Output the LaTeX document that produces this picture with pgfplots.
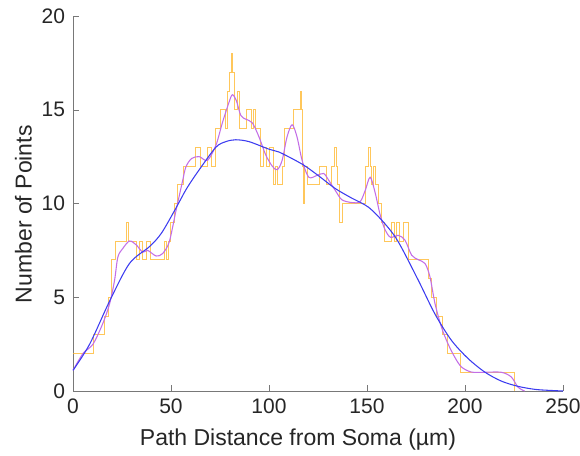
\documentclass[border=0pt]{standalone}
\usepackage{pgfplots}
\pgfplotsset{compat=1.18}
\usepackage{fontspec}
\setmainfont{Liberation Sans}
\definecolor{orangeh}{RGB}{255,185,50}
\definecolor{purplek}{RGB}{195,110,230}
\definecolor{bluek}{RGB}{60,60,240}
\definecolor{axgray}{RGB}{120,120,120}
\definecolor{txt}{RGB}{38,38,38}
\begin{document}
\begin{tikzpicture}
\useasboundingbox (-54.75pt,-48pt) rectangle (380.25pt,293.25pt);
\begin{axis}[
  at={(0pt,0pt)}, anchor=south west,
  scale only axis,
  width=367.5pt, height=281.25pt,
  xmin=0, xmax=250, ymin=0, ymax=20,
  xtick={0,50,100,150,200,250},
  ytick={0,5,10,15,20},
  axis x line*=bottom, axis y line*=left,
  axis line style={axgray,-},
  tick align=inside,
  major tick length=4.5pt,
  tick style={axgray},
  ticklabel style={font=\fontsize{15.75}{18}\selectfont, text=txt},
  xticklabel style={yshift=-2.5pt},
  yticklabel style={xshift=-2.5pt},
  /pgf/number format/assume math mode=true,
  xlabel={Path Distance from Soma (µm)},
  ylabel={Number of Points},
  label style={font=\fontsize{17.25}{20}\selectfont, text=txt},
  xlabel style={at={([xshift=-15pt,yshift=-40.5pt]axis description cs:0.5,0)}, anchor=base},
  ylabel style={at={([xshift=-31pt,yshift=-8pt]axis description cs:0,0.5)}, anchor=base, rotate=0},
  clip=false,
]
\addplot[orangeh, line width=0.7pt, const plot mark left, opacity=0.8] coordinates {
(0,2)(10.5,3)(15.8,4)(18,5)(19.5,7)(21.7,8)(27.1,9)(28.4,8)(32.5,7)(34,8)(35.3,7)(37.5,8)(39.5,7)(46.5,8)(47.8,7)(48.7,8)(49.8,9)(51.7,10)(53.4,11)(56.4,12)(62.7,13)(65.2,12)(68.6,13)(70.8,12)(72.8,14)(75.4,15)(78.0,14)(78.6,16)(79.6,17)(80.8,18)(81.5,17)(82.2,16)(82.6,15)(83.9,16)(84.7,14)(88.6,15)(91.2,14)(92.3,15)(93.2,14)(95.5,12)(97,13)(98.5,12)(100,13)(102.5,11)(103.3,12)(104.1,11)(107,12)(108,14)(112.6,15)(115.8,16)(116.4,15)(117,12)(117.7,10)(118.2,12)(119.4,11)(125.5,12)(129.1,11)(132.1,12)(133.5,13)(134.2,12)(134.7,11)(136.2,9)(137.6,10)(149,12)(150.8,13)(151.6,12)(152.1,11)(153.3,12)(154.2,11)(155.9,10)(157.2,9)(158.9,8)(162.6,9)(163.8,8)(165.2,9)(166.5,8)(168.6,9)(171.1,7)(181.6,6)(183,5)(185.5,4)(188.4,3)(191.1,2)(197.9,1)(225,0)(225,0)
};
\addplot[purplek, line width=0.8pt, smooth] coordinates {
(0,1.1)(5.1,2.0)(10.2,2.5)(15.2,3.6)(18.7,4.66)(21.2,5.9)(22.9,7.15)(25.4,7.6)(28.8,8.0)(32.2,7.8)(35.6,7.4)(38.1,7.5)(42.4,7.2)(45.7,7.33)(49.1,7.95)(52.5,9.6)(55.9,11.2)(57.6,11.95)(60.5,12.4)(64.4,12.5)(68.6,12.3)(72.9,13.1)(76.2,14.3)(79.6,15.4)(81.3,15.8)(83.3,15.5)(85.6,14.7)(88.1,14.5)(91.5,14.3)(94.9,13.55)(98.3,12.6)(101.6,12.0)(104.2,11.8)(106.7,12.3)(109.2,13.55)(111.8,14.2)(114.3,13.55)(116.9,12.3)(120.3,11.4)(124.5,11.5)(127.9,11.6)(130.4,11.25)(133.8,10.7)(137.2,10.2)(142.3,10.05)(146.5,10.1)(149.1,10.7)(151.6,11.4)(154.1,10.6)(156.7,9.4)(159.2,8.6)(162,8.2)(166,8.3)(169.4,8.04)(172.8,7.24)(176.2,7.0)(179.6,6.8)(182.1,6.1)(184.7,4.66)(188,3.4)(191.4,2.5)(194.8,1.8)(198.2,1.28)(203.3,1.01)(210,1.0)(218.5,1.0)(223.6,0.75)(227,0.21)(230.4,0.0)
};
\addplot[bluek, line width=0.8pt, smooth] coordinates {
(0,1.1)(8.5,2.5)(18.7,4.8)(28.8,6.8)(39,7.7)(45,8.4)(51.7,9.6)(58,10.8)(64.4,11.8)(72.9,13.0)(78,13.3)(83,13.4)(89.8,13.3)(99.9,12.9)(105,12.75)(116.9,12.1)(125,11.5)(133.8,10.8)(142,10.3)(150.8,9.8)(159.3,8.9)(166,7.95)(176.2,5.9)(184.7,4.1)(193.1,2.7)(201.6,1.73)(210.1,1.01)(218.5,0.53)(227,0.25)(235.5,0.09)(242,0.04)(250,0.0)
};
\end{axis}
\end{tikzpicture}
\end{document}
